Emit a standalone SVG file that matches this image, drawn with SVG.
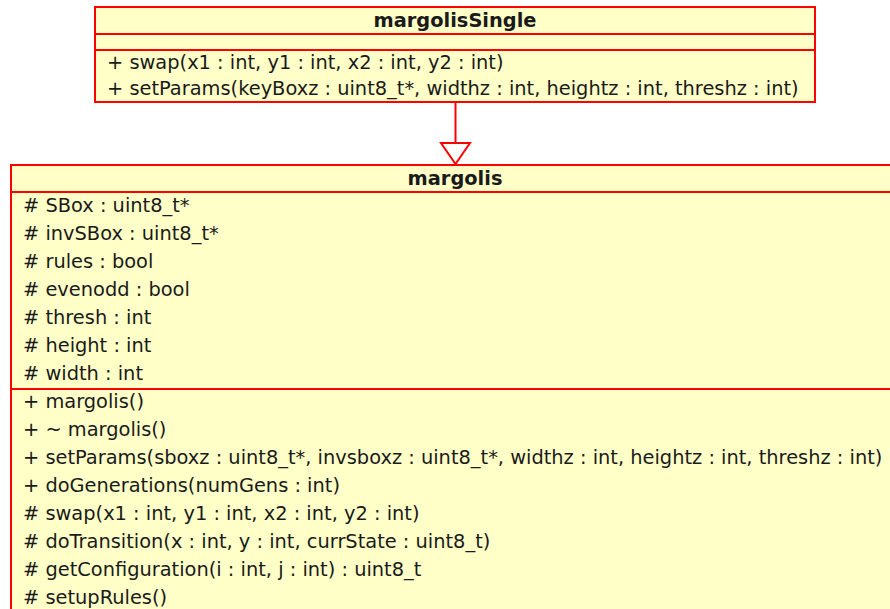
<svg xmlns="http://www.w3.org/2000/svg" width="890" height="609" viewBox="0 0 890 609">
<style>
.box{fill:#ffffc8;stroke:#ff0000;stroke-width:2}
.sep{stroke:#ff0000;stroke-width:2}
.t{font-family:"DejaVu Sans",Verdana,sans-serif;font-size:19.4px;fill:#1a1a1a}
.b{font-weight:bold;text-anchor:middle}
.edge{stroke:#ff0000;stroke-width:2;fill:none}
.head{stroke:#ff0000;stroke-width:2;fill:#ffffff}
</style>
<rect width="890" height="609" fill="#ffffff"/>
<g id="connectors">
<line class="edge" x1="455.5" y1="102" x2="455.5" y2="143"/>
<polygon class="head" points="441,143 470,143 455.5,164"/>
</g>
<g id="margolisSingle">
<rect class="box" x="95" y="7" width="720" height="95"/>
<line class="sep" x1="95" y1="34" x2="815" y2="34"/>
<line class="sep" x1="95" y1="50" x2="815" y2="50"/>
<text class="t b" x="455" y="27">margolisSingle</text>
<text class="t" x="107" y="69">+ swap(x1 : int, y1 : int, x2 : int, y2 : int)</text>
<text class="t" x="107" y="95">+ setParams(keyBoxz : uint8_t*, widthz : int, heightz : int, threshz : int)</text>
</g>
<g id="margolis">
<rect class="box" x="11" y="165" width="890" height="460"/>
<line class="sep" x1="11" y1="192" x2="901" y2="192"/>
<line class="sep" x1="11" y1="389" x2="901" y2="389"/>
<text class="t b" x="455" y="185">margolis</text>
<text class="t" x="23" y="212"># SBox : uint8_t*</text>
<text class="t" x="23" y="240"># invSBox : uint8_t*</text>
<text class="t" x="23" y="268"># rules : bool</text>
<text class="t" x="23" y="296"># evenodd : bool</text>
<text class="t" x="23" y="324"># thresh : int</text>
<text class="t" x="23" y="352"># height : int</text>
<text class="t" x="23" y="380"># width : int</text>
<text class="t" x="23" y="408">+ margolis()</text>
<text class="t" x="23" y="436">+ ~ margolis()</text>
<text class="t" x="23" y="464">+ setParams(sboxz : uint8_t*, invsboxz : uint8_t*, widthz : int, heightz : int, threshz : int)</text>
<text class="t" x="23" y="492">+ doGenerations(numGens : int)</text>
<text class="t" x="23" y="520"># swap(x1 : int, y1 : int, x2 : int, y2 : int)</text>
<text class="t" x="23" y="548"># doTransition(x : int, y : int, currState : uint8_t)</text>
<text class="t" x="23" y="576"># getConfiguration(i : int, j : int) : uint8_t</text>
<text class="t" x="23" y="604"># setupRules()</text>
</g>
</svg>
